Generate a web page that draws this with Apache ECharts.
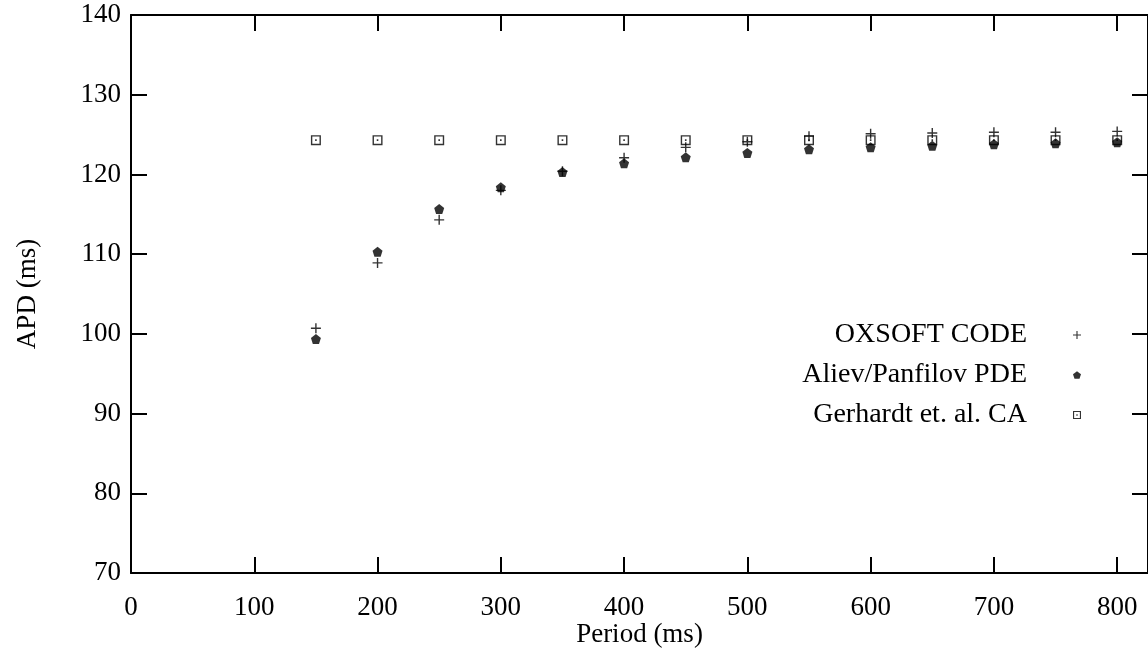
<!DOCTYPE html>
<html>
<head>
<meta charset="utf-8">
<script src="https://cdn.jsdelivr.net/npm/echarts@6/dist/echarts.min.js"></script>
<style>
  html, body { margin: 0; padding: 0; background: #fff; }
  #chart { width: 1148px; height: 656px; }
</style>
</head>
<body>
<div id="chart"></div>
<script>
var periods = [150, 200, 250, 300, 350, 400, 450, 500, 550, 600, 650, 700, 750, 800];
var oxsoft = [100.7, 108.9, 114.3, 118.0, 120.4, 122.1, 123.4, 124.1, 124.8, 125.1, 125.2, 125.3, 125.3, 125.4];
var aliev = [99.35, 110.3, 115.65, 118.4, 120.3, 121.4, 122.15, 122.7, 123.15, 123.4, 123.6, 123.8, 123.9, 124.05];
var gerhardt = [124.3, 124.3, 124.3, 124.3, 124.3, 124.3, 124.3, 124.3, 124.3, 124.3, 124.3, 124.3, 124.3, 124.3];
var seriesNames = ["OXSOFT CODE", "Aliev/Panfilov PDE", "Gerhardt et. al. CA"];

var plusIcon = "path://M4.3,0H5.7V4.3H10V5.7H5.7V10H4.3V5.7H0V4.3H4.3Z";
var pentIcon = "path://M5,0L10,3.8L8.1,9.6L1.9,9.6L0,3.8Z";
var boxIcon = "path://M0,0H10V10H0Z M1.4,1.4V8.6H8.6V1.4Z M4.2,4.2H5.8V5.8H4.2Z";

function pairs(ys) {
  return periods.map(function (p, i) {
    return [p, ys[i]];
  });
}

var font = "Liberation Serif";
var myChart = echarts.init(document.getElementById("chart"));

var axisCommon = {
  axisLine: { show: true, onZero: false, lineStyle: { color: "#000", width: 2 } },
  axisTick: { show: true, inside: true, length: 16, lineStyle: { color: "#000", width: 2 } },
  splitLine: { show: false },
};

var option = {
  animation: false,
  grid: {
    left: 131,
    top: 15,
    right: 0,
    bottom: 83,
    containLabel: false,
    outerBoundsMode: "none",
  },
  legend: {
    orient: "vertical",
    right: 62,
    top: 316,
    align: "right",
    itemWidth: 8,
    itemHeight: 8,
    itemGap: 12,
    data: [
      { name: seriesNames[0], icon: plusIcon },
      { name: seriesNames[1], icon: pentIcon },
      { name: seriesNames[2], icon: boxIcon },
    ],
    textStyle: {
      fontFamily: font,
      fontSize: 28,
      color: "#000",
      padding: [0, 41, 0, 0],
    },
  },
  xAxis: [
    Object.assign({}, axisCommon, {
      type: "value",
      min: 0,
      max: 825,
      interval: 100,
      name: "Period (ms)",
      nameLocation: "middle",
      nameGap: 48,
      nameMoveOverlap: false,
      nameTextStyle: { fontFamily: font, fontSize: 27, color: "#000" },
      axisLabel: {
        fontFamily: font,
        fontSize: 27,
        color: "#000",
        margin: 21,
        showMaxLabel: false,
      },
    }),
    Object.assign({}, axisCommon, {
      type: "value",
      position: "top",
      min: 0,
      max: 825,
      interval: 100,
      axisLabel: { show: false },
    }),
  ],
  yAxis: [
    Object.assign({}, axisCommon, {
      type: "value",
      min: 70,
      max: 140,
      interval: 10,
      name: "APD (ms)",
      nameLocation: "middle",
      nameGap: 90,
      nameTextStyle: { fontFamily: font, fontSize: 27, color: "#000" },
      axisLabel: { fontFamily: font, fontSize: 27, color: "#000", margin: 10 },
    }),
    Object.assign({}, axisCommon, {
      type: "value",
      position: "right",
      min: 70,
      max: 140,
      interval: 10,
      axisLabel: { show: false },
    }),
  ],
  series: [
    {
      name: seriesNames[0],
      type: "scatter",
      data: pairs(oxsoft),
      symbol: plusIcon,
      symbolSize: 10,
      itemStyle: { color: "#000" },
    },
    {
      name: seriesNames[1],
      type: "scatter",
      data: pairs(aliev),
      symbol: pentIcon,
      symbolSize: 10,
      itemStyle: { color: "#000" },
    },
    {
      name: seriesNames[2],
      type: "scatter",
      data: pairs(gerhardt),
      symbol: boxIcon,
      symbolSize: 10,
      itemStyle: { color: "#000" },
    },
  ],
};

myChart.setOption(option);
window.addEventListener("resize", function () {
  myChart.resize();
});
</script>
</body>
</html>
